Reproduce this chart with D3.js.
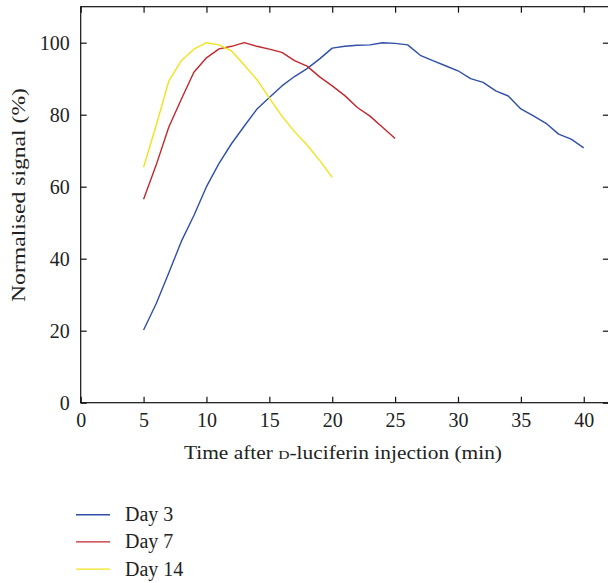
<!DOCTYPE html>
<html><head><meta charset="utf-8">
<script src="https://cdn.jsdelivr.net/npm/d3@7"></script>
<style>body{margin:0;background:#fff}svg{display:block}text{font-family:"Liberation Serif","DejaVu Serif",serif;fill:#222}</style>
</head><body><svg id="c" width="608" height="583"></svg>
<script>
const xTicks=[0,5,10,15,20,25,30,35,40];
const yTicks=[0,20,40,60,80,100];
const t3=[5,6,7,8,9,10,11,12,13,14,15,16,17,18,19,20,21,22,23,24,25,26,27,28,29,30,31,32,33,34,35,36,37,38,39,40];
const day3=[20.2,27.5,36,44.8,52,60,66.5,72,76.8,81.5,84.8,88,90.6,92.8,95.5,98.5,99,99.3,99.4,100,99.8,99.4,96.5,95,93.6,92.2,90,89,86.6,85.2,81.6,79.7,77.6,74.6,73.2,70.8];
const t7=[5,6,7,8,9,10,11,12,13,14,15,16,17,18,19,20,21,22,23,24,25];
const day7=[56.5,66,76.5,84.3,91.8,95.8,98.3,99,100,99,98.2,97.3,95,93.5,90.5,88,85.3,82,79.6,76.5,73.4];
const t14=[5,6,7,8,9,10,11,12,13,14,15,16,17,18,19,20];
const day14=[65.4,77,89.3,95,98.2,100,99.4,97.7,93.8,89.8,84.6,79.6,75.3,71.6,67.3,62.6];
const seriesNames=["Day 3","Day 7","Day 14"];
const colors=["#2f4fa8","#c1272d","#f0e31c"];

const svg=d3.select("#c");
const x=d3.scaleLinear().domain([0,42]).range([80.7,608.9]);
const y=d3.scaleLinear().domain([0,110]).range([402.7,6.7]);
const g=svg.append("g");
g.append("rect").attr("x",x(0)).attr("y",y(110)).attr("width",x(42)-x(0)).attr("height",y(0)-y(110))
 .attr("fill","none").attr("stroke","#111").attr("stroke-width",1.2);
const fs="20px";
const xb=g.append("g").attr("transform",`translate(0,${y(0)})`)
 .call(d3.axisBottom(x).tickValues(xTicks).tickSizeInner(-6).tickSizeOuter(0).tickPadding(10).tickFormat(d3.format("d")));
const yl=g.append("g").attr("transform",`translate(${x(0)},0)`)
 .call(d3.axisLeft(y).tickValues(yTicks).tickSizeInner(-6).tickSizeOuter(0).tickPadding(11).tickFormat(d3.format("d")));
const xt=g.append("g").attr("transform",`translate(0,${y(110)})`)
 .call(d3.axisTop(x).tickValues(xTicks).tickSizeInner(-6).tickSizeOuter(0).tickFormat(""));
const yr=g.append("g").attr("transform",`translate(${x(42)},0)`)
 .call(d3.axisRight(y).tickValues(yTicks).tickSizeInner(-6).tickSizeOuter(0).tickFormat(""));
[xb,yl,xt,yr].forEach(a=>{a.select(".domain").remove();a.selectAll("line").attr("stroke","#111").attr("stroke-width",1.2);
 a.selectAll("text").style("font-family","Liberation Serif, serif").style("font-size",fs).attr("fill","#222");});

const line=d3.line().x(d=>x(d[0])).y(d=>y(d[1]));
const data=[d3.zip(t3,day3),d3.zip(t7,day7),d3.zip(t14,day14)];
data.forEach((d,i)=>g.append("path").datum(d).attr("d",line).attr("fill","none").attr("stroke",colors[i]).attr("stroke-width",1.4).attr("stroke-linejoin","round"));

const xl=svg.append("text").attr("x",343).attr("y",459).attr("text-anchor","middle").style("font-size","18.5px")
 .attr("textLength",318).attr("lengthAdjust","spacingAndGlyphs");
xl.append("tspan").text("Time after ");
xl.append("tspan").style("font-size","13.5px").text("D");
xl.append("tspan").text("-luciferin injection (min)");
svg.append("text").attr("transform","translate(25,195) rotate(-90)").attr("text-anchor","middle").style("font-size","18.5px")
 .attr("textLength",214).attr("lengthAdjust","spacingAndGlyphs").text("Normalised signal (%)");

const lg=svg.append("g");
seriesNames.forEach((n,i)=>{
 const yy=514.7+i*27.2;
 lg.append("line").attr("x1",76).attr("x2",110).attr("y1",yy).attr("y2",yy).attr("stroke",colors[i]).attr("stroke-width",1.4);
 lg.append("text").attr("x",125).attr("y",yy+6.5).style("font-size","20px").text(n);
});
</script></body></html>
